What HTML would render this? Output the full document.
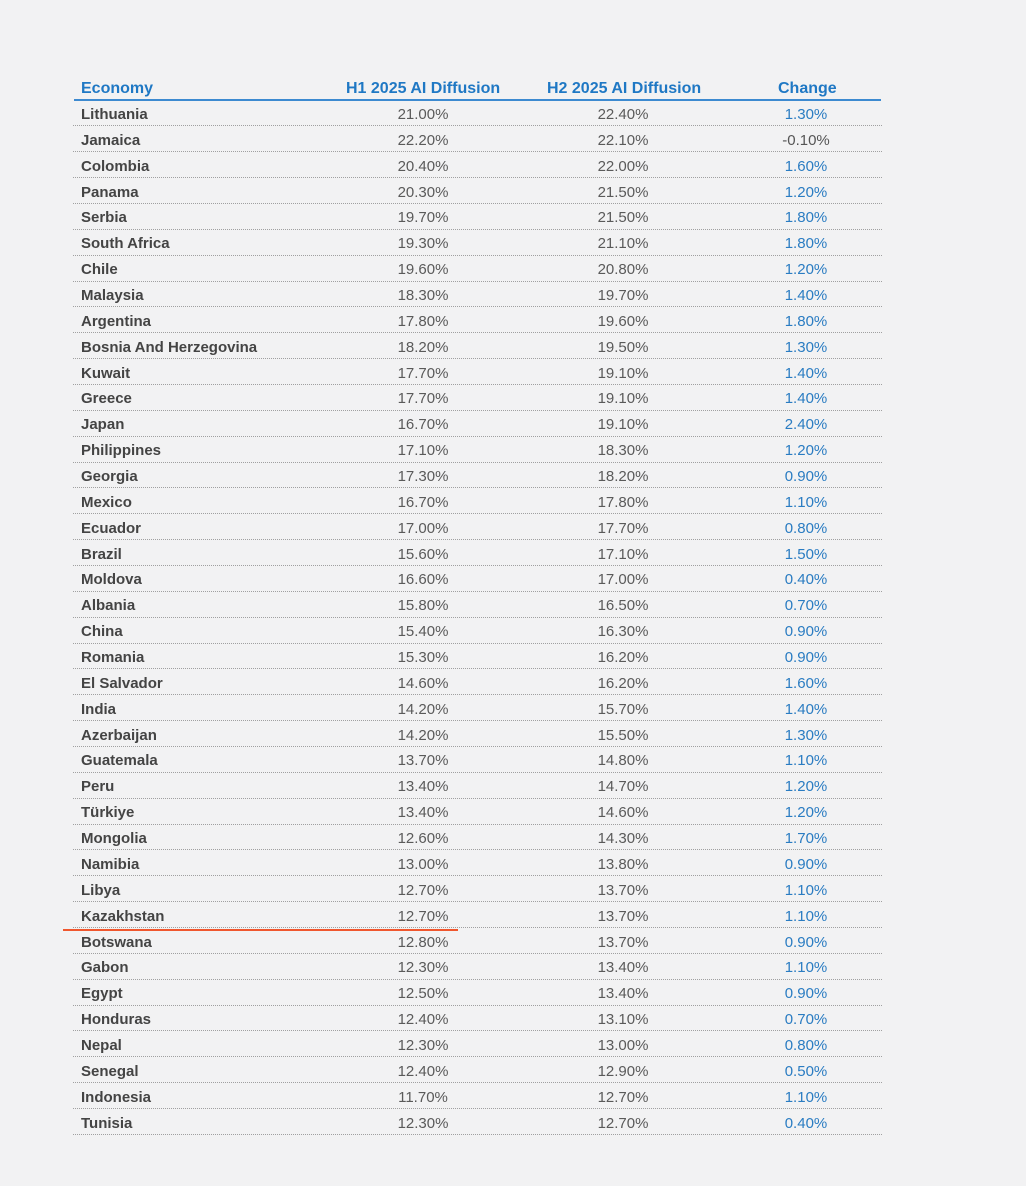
<!DOCTYPE html>
<html><head><meta charset="utf-8"><style>
body{margin:0;width:1026px;height:1186px;background:#f2f2f3;font-family:"Liberation Sans",sans-serif;position:relative;overflow:hidden}
.hd{position:absolute;top:79px;font-size:16px;font-weight:bold;color:#1f78c4;line-height:20px}
.bl{position:absolute;left:74px;width:807px;top:99px;height:2px;background:#3d8ad0}
#t{position:absolute;left:73px;top:100.5px;width:809px}
.r{height:25.87px;box-sizing:border-box;border-bottom:1px dotted #a0a0a0;position:relative;font-size:15px;line-height:25px}
.r span{position:absolute;top:1.5px}
.n{left:8px;font-weight:bold;color:#444}
.a{left:277px;width:146px;text-align:center;color:#5a5a5a}
.b{left:477px;width:146px;text-align:center;color:#5a5a5a}
.c{left:660px;width:146px;text-align:center;color:#2a7cc2}
.g{color:#555}
.red{position:absolute;left:63px;width:395px;top:929px;height:2px;background:#f0572e}
</style></head><body>
<div class="hd" style="left:81px">Economy</div>
<div class="hd" style="left:346px">H1 2025 AI Diffusion</div>
<div class="hd" style="left:547px">H2 2025 AI Diffusion</div>
<div class="hd" style="left:778px">Change</div>
<div class="bl"></div>
<div id="t">
<div class="r"><span class="n">Lithuania</span><span class="a">21.00%</span><span class="b">22.40%</span><span class="c">1.30%</span></div>
<div class="r"><span class="n">Jamaica</span><span class="a">22.20%</span><span class="b">22.10%</span><span class="c g">-0.10%</span></div>
<div class="r"><span class="n">Colombia</span><span class="a">20.40%</span><span class="b">22.00%</span><span class="c">1.60%</span></div>
<div class="r"><span class="n">Panama</span><span class="a">20.30%</span><span class="b">21.50%</span><span class="c">1.20%</span></div>
<div class="r"><span class="n">Serbia</span><span class="a">19.70%</span><span class="b">21.50%</span><span class="c">1.80%</span></div>
<div class="r"><span class="n">South Africa</span><span class="a">19.30%</span><span class="b">21.10%</span><span class="c">1.80%</span></div>
<div class="r"><span class="n">Chile</span><span class="a">19.60%</span><span class="b">20.80%</span><span class="c">1.20%</span></div>
<div class="r"><span class="n">Malaysia</span><span class="a">18.30%</span><span class="b">19.70%</span><span class="c">1.40%</span></div>
<div class="r"><span class="n">Argentina</span><span class="a">17.80%</span><span class="b">19.60%</span><span class="c">1.80%</span></div>
<div class="r"><span class="n">Bosnia And Herzegovina</span><span class="a">18.20%</span><span class="b">19.50%</span><span class="c">1.30%</span></div>
<div class="r"><span class="n">Kuwait</span><span class="a">17.70%</span><span class="b">19.10%</span><span class="c">1.40%</span></div>
<div class="r"><span class="n">Greece</span><span class="a">17.70%</span><span class="b">19.10%</span><span class="c">1.40%</span></div>
<div class="r"><span class="n">Japan</span><span class="a">16.70%</span><span class="b">19.10%</span><span class="c">2.40%</span></div>
<div class="r"><span class="n">Philippines</span><span class="a">17.10%</span><span class="b">18.30%</span><span class="c">1.20%</span></div>
<div class="r"><span class="n">Georgia</span><span class="a">17.30%</span><span class="b">18.20%</span><span class="c">0.90%</span></div>
<div class="r"><span class="n">Mexico</span><span class="a">16.70%</span><span class="b">17.80%</span><span class="c">1.10%</span></div>
<div class="r"><span class="n">Ecuador</span><span class="a">17.00%</span><span class="b">17.70%</span><span class="c">0.80%</span></div>
<div class="r"><span class="n">Brazil</span><span class="a">15.60%</span><span class="b">17.10%</span><span class="c">1.50%</span></div>
<div class="r"><span class="n">Moldova</span><span class="a">16.60%</span><span class="b">17.00%</span><span class="c">0.40%</span></div>
<div class="r"><span class="n">Albania</span><span class="a">15.80%</span><span class="b">16.50%</span><span class="c">0.70%</span></div>
<div class="r"><span class="n">China</span><span class="a">15.40%</span><span class="b">16.30%</span><span class="c">0.90%</span></div>
<div class="r"><span class="n">Romania</span><span class="a">15.30%</span><span class="b">16.20%</span><span class="c">0.90%</span></div>
<div class="r"><span class="n">El Salvador</span><span class="a">14.60%</span><span class="b">16.20%</span><span class="c">1.60%</span></div>
<div class="r"><span class="n">India</span><span class="a">14.20%</span><span class="b">15.70%</span><span class="c">1.40%</span></div>
<div class="r"><span class="n">Azerbaijan</span><span class="a">14.20%</span><span class="b">15.50%</span><span class="c">1.30%</span></div>
<div class="r"><span class="n">Guatemala</span><span class="a">13.70%</span><span class="b">14.80%</span><span class="c">1.10%</span></div>
<div class="r"><span class="n">Peru</span><span class="a">13.40%</span><span class="b">14.70%</span><span class="c">1.20%</span></div>
<div class="r"><span class="n">Türkiye</span><span class="a">13.40%</span><span class="b">14.60%</span><span class="c">1.20%</span></div>
<div class="r"><span class="n">Mongolia</span><span class="a">12.60%</span><span class="b">14.30%</span><span class="c">1.70%</span></div>
<div class="r"><span class="n">Namibia</span><span class="a">13.00%</span><span class="b">13.80%</span><span class="c">0.90%</span></div>
<div class="r"><span class="n">Libya</span><span class="a">12.70%</span><span class="b">13.70%</span><span class="c">1.10%</span></div>
<div class="r"><span class="n">Kazakhstan</span><span class="a">12.70%</span><span class="b">13.70%</span><span class="c">1.10%</span></div>
<div class="r"><span class="n">Botswana</span><span class="a">12.80%</span><span class="b">13.70%</span><span class="c">0.90%</span></div>
<div class="r"><span class="n">Gabon</span><span class="a">12.30%</span><span class="b">13.40%</span><span class="c">1.10%</span></div>
<div class="r"><span class="n">Egypt</span><span class="a">12.50%</span><span class="b">13.40%</span><span class="c">0.90%</span></div>
<div class="r"><span class="n">Honduras</span><span class="a">12.40%</span><span class="b">13.10%</span><span class="c">0.70%</span></div>
<div class="r"><span class="n">Nepal</span><span class="a">12.30%</span><span class="b">13.00%</span><span class="c">0.80%</span></div>
<div class="r"><span class="n">Senegal</span><span class="a">12.40%</span><span class="b">12.90%</span><span class="c">0.50%</span></div>
<div class="r"><span class="n">Indonesia</span><span class="a">11.70%</span><span class="b">12.70%</span><span class="c">1.10%</span></div>
<div class="r"><span class="n">Tunisia</span><span class="a">12.30%</span><span class="b">12.70%</span><span class="c">0.40%</span></div>
</div>
<div class="red"></div>
</body></html>
